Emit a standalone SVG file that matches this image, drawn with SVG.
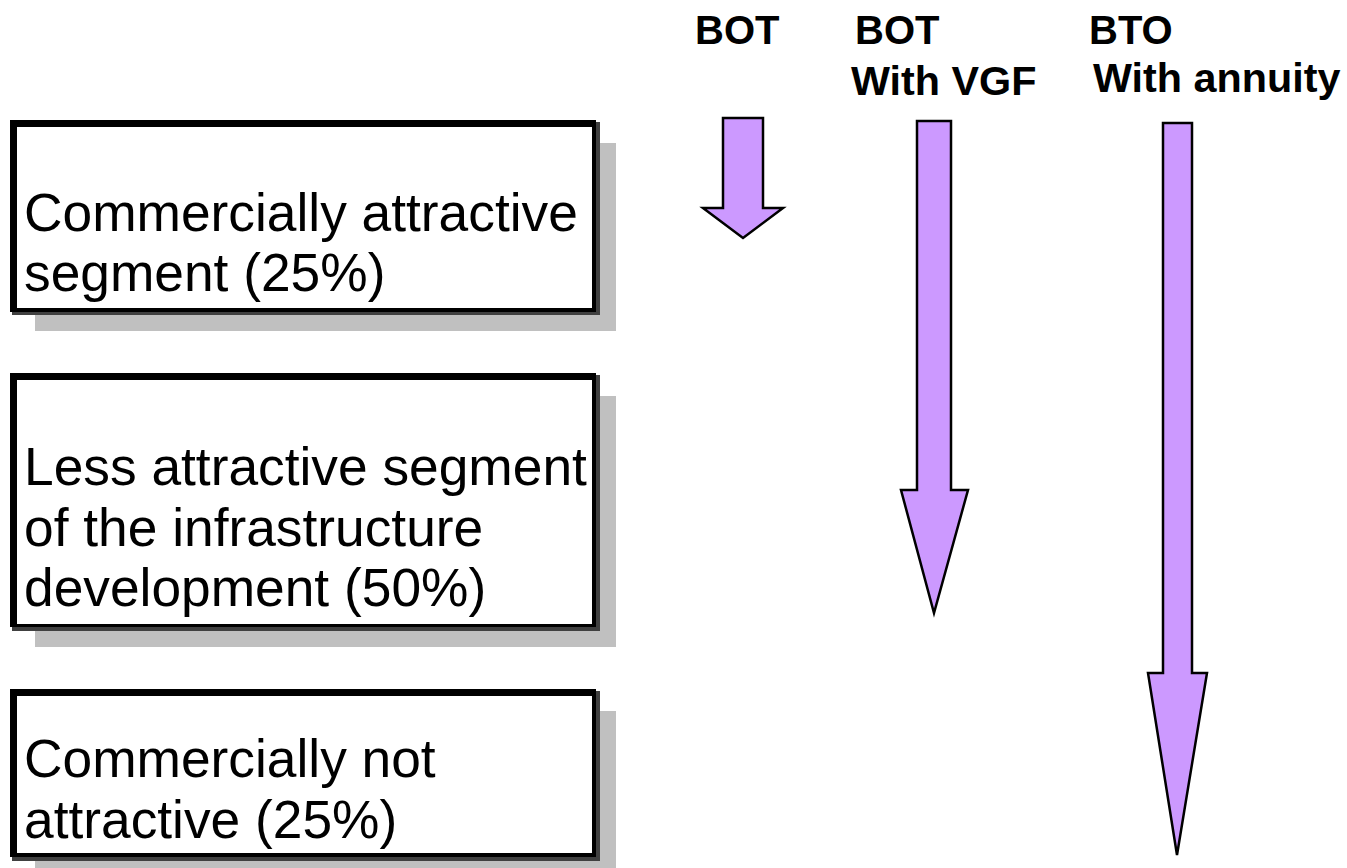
<svg xmlns="http://www.w3.org/2000/svg" width="1347" height="868" viewBox="0 0 1347 868">
<style>
.shadow{fill:#c0c0c0}
.dark{fill:#404040}
.border{fill:#000}
.inner{fill:#fff}
.lbl{font-family:"Liberation Sans",Arial,sans-serif;font-size:53.3px;fill:#000}
.hdr{font-family:"Liberation Sans",Arial,sans-serif;font-size:40px;font-weight:bold;fill:#000}
.hdr2{font-family:"Liberation Sans",Arial,sans-serif;font-size:41.3px;font-weight:bold;fill:#000}
.arrow{fill:#cc99ff;stroke:#000;stroke-width:2.5;stroke-linejoin:miter}
</style>
<rect width="1347" height="868" fill="#fff"/>
<g id="box1">
<rect class="shadow" x="35" y="143" width="581" height="188"/>
<rect class="dark" x="12" y="122" width="588" height="193"/>
<rect class="border" x="10" y="120" width="586" height="192"/>
<rect class="inner" x="17" y="127" width="575" height="181"/>
<text class="lbl" x="24" y="231">Commercially attractive</text>
<text class="lbl" x="24" y="291">segment (25%)</text>
</g>
<g id="box2">
<rect class="shadow" x="35" y="396" width="581" height="251"/>
<rect class="dark" x="12" y="375" width="588" height="256"/>
<rect class="border" x="10" y="373" width="586" height="254"/>
<rect class="inner" x="17" y="380" width="575" height="244"/>
<text class="lbl" x="24" y="485">Less attractive segment</text>
<text class="lbl" x="24" y="546">of the infrastructure</text>
<text class="lbl" x="24" y="606">development (50%)</text>
</g>
<g id="box3">
<rect class="shadow" x="35" y="711" width="581" height="160"/>
<rect class="dark" x="12" y="691" width="588" height="170"/>
<rect class="border" x="10" y="689" width="586" height="168"/>
<rect class="inner" x="17" y="696" width="575" height="157"/>
<text class="lbl" x="24" y="777">Commercially not</text>
<text class="lbl" x="24" y="838">attractive (25%)</text>
</g>
<g id="hdr-bot">
<text class="hdr" x="695" y="44">BOT</text>
</g>
<g id="hdr-bot-vgf">
<text class="hdr" x="855" y="44">BOT</text>
<text class="hdr2" x="851" y="95">With VGF</text>
</g>
<g id="hdr-bto">
<text class="hdr" x="1089" y="44">BTO</text>
<text class="hdr2" x="1093" y="92">With annuity</text>
</g>
<g id="connectors">
<polygon class="arrow" points="723,118 763,118 763,208 783,208 743,238 703,208 723,208"/>
<polygon class="arrow" points="917,121 951,121 951,490 968,490 934,613 901,490 917,490"/>
<polygon class="arrow" points="1163,123 1192,123 1192,673 1207,673 1177,855 1148,673 1163,673"/>
</g>
</svg>
